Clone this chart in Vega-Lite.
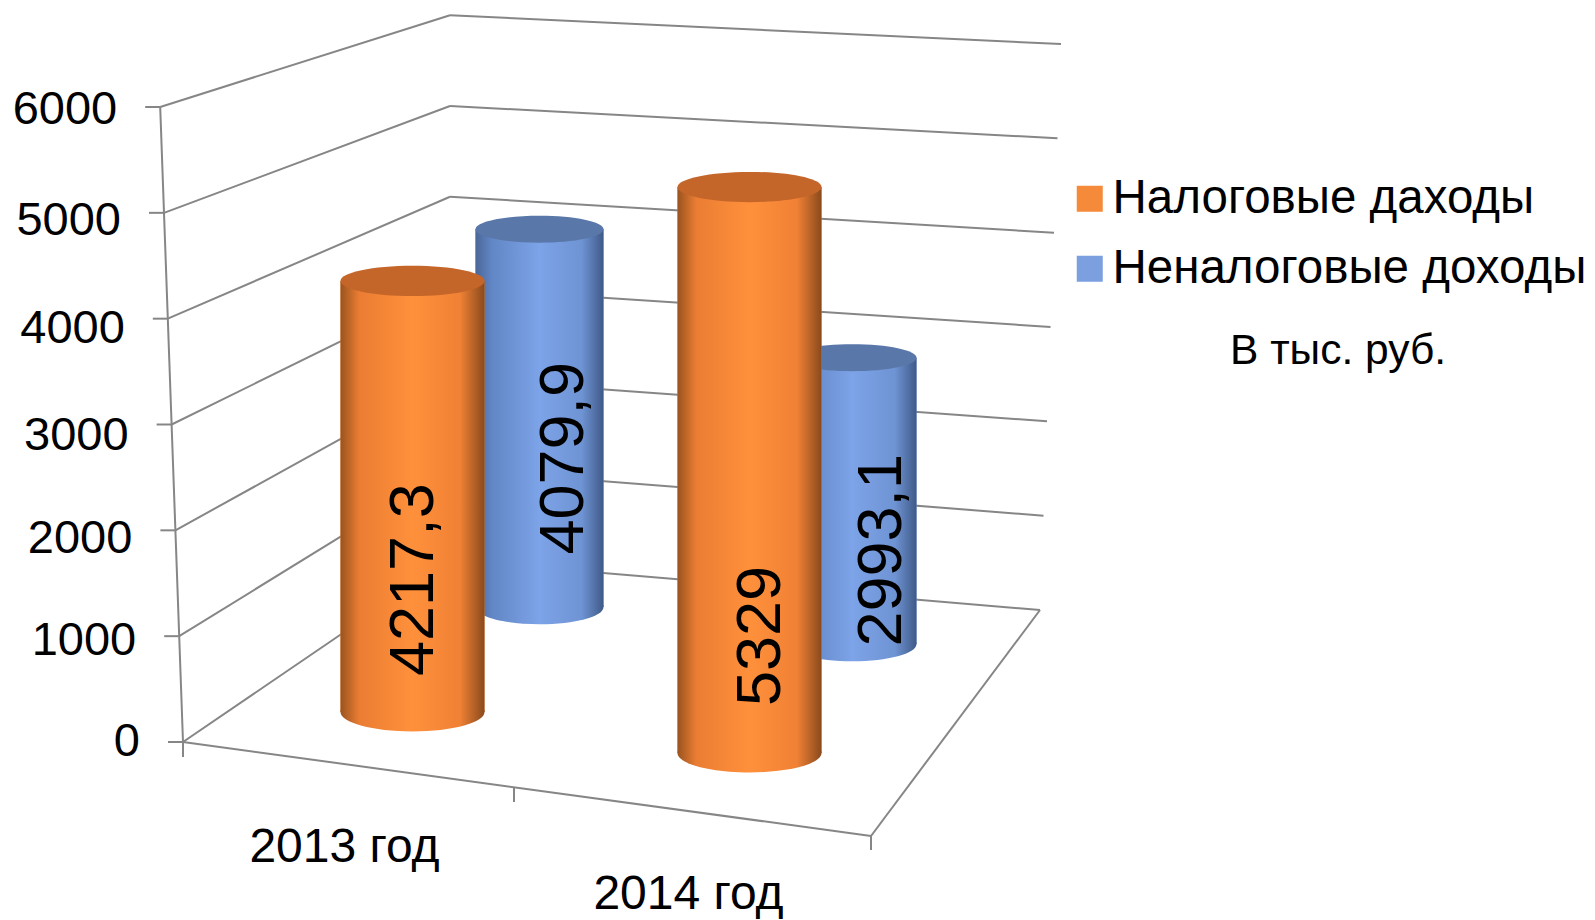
{
"$schema":"https://vega.github.io/schema/vega-lite/v6.json",
"width":688,"height":635,
"autosize":"none",
"padding":{"left":183,"top":107,"right":724,"bottom":178},
"background":"white",
"config":{"view":{"stroke":null},"font":"Liberation Sans"},
"title":{"text":"В тыс. руб.","anchor":"start","frame":"group","dx":1047,"dy":358,"offset":0,"fontSize":42.5,"fontWeight":"normal","font":"Liberation Sans","color":"black"},
"params":[{"name":"g","value":{
"Налоговые даходы":{"2013 год":{"dx":57.5,"top":-14.7,"bot":-30,"tdx":58.5,"tdy":284},"2014 год":{"dx":50.5,"top":9,"bot":11,"tdx":62,"tdy":458}},
"Неналоговые доходы":{"2013 год":{"dx":184.5,"top":-81,"bot":-135,"tdx":209,"tdy":148},"2014 год":{"dx":153.5,"top":-67.5,"bot":-98,"tdx":183,"tdy":125}}
}}],
"datasets":{
"grid":[{"level":0},{"level":1000},{"level":2000},{"level":3000},{"level":4000},{"level":5000},{"level":6000}],
"edges":[{"edge":0},{"edge":1},{"edge":2}],
"income":[
{"year":"2013 год","series":"Налоговые даходы","value":4217.3,"label":"4217,3"},
{"year":"2014 год","series":"Налоговые даходы","value":5329,"label":"5329"},
{"year":"2013 год","series":"Неналоговые доходы","value":4079.9,"label":"4079,9"},
{"year":"2014 год","series":"Неналоговые доходы","value":2993.1,"label":"2993,1"}
]},
"layer":[
{"data":{"name":"grid"},
 "mark":{"type":"rule","color":"#868686","strokeWidth":2,"xOffset":{"expr":"-172-0.0038*datum.level"},"x2Offset":95,"y2Offset":{"expr":"-182+0.01503*datum.level"}},
 "encoding":{
  "x":{"datum":"2013 год","type":"nominal","axis":null,"scale":{"domain":["2013 год","2014 год"],"paddingInner":0,"paddingOuter":0}},
  "x2":{"datum":"2013 год"},
  "y":{"field":"level","type":"quantitative","axis":null,"scale":{"domain":[0,6000],"nice":false}},
  "y2":{"field":"level"}}},
{"data":{"name":"grid"},
 "mark":{"type":"rule","color":"#868686","strokeWidth":2,"xOffset":95,"x2Offset":{"expr":"685+0.0035*datum.level"},"yOffset":{"expr":"-182+0.01503*datum.level"},"y2Offset":{"expr":"-132+0.0115*datum.level"}},
 "encoding":{"x":{"datum":"2013 год","type":"nominal","axis":null},"x2":{"datum":"2013 год"},"y":{"field":"level","type":"quantitative","axis":null},"y2":{"field":"level"}}},
{"data":{"name":"grid"},
 "mark":{"type":"rule","color":"#868686","strokeWidth":2,"xOffset":{"expr":"-187-0.0038*datum.level"},"x2Offset":{"expr":"-172-0.0038*datum.level"}},
 "encoding":{"x":{"datum":"2013 год","type":"nominal","axis":null},"x2":{"datum":"2013 год"},"y":{"field":"level","type":"quantitative","axis":null}}},
{"data":{"name":"grid"},"transform":[{"filter":"datum.level==6000"}],
 "mark":{"type":"rule","color":"#868686","strokeWidth":2,"xOffset":-194.8,"x2Offset":-172},
 "encoding":{"x":{"datum":"2013 год","type":"nominal","axis":null},"x2":{"datum":"2013 год"},"y":{"field":"level","type":"quantitative","axis":null},"y2":{"datum":0}}},
{"data":{"name":"grid"},"transform":[{"filter":"datum.level==0"}],
 "mark":{"type":"rule","color":"#868686","strokeWidth":2,"xOffset":-172,"x2Offset":516,"y2Offset":94},
 "encoding":{"x":{"datum":"2013 год","type":"nominal","axis":null},"x2":{"datum":"2013 год"},"y":{"field":"level","type":"quantitative","axis":null},"y2":{"field":"level"}}},
{"data":{"name":"grid"},"transform":[{"filter":"datum.level==0"}],
 "mark":{"type":"rule","color":"#868686","strokeWidth":2,"xOffset":516,"x2Offset":685,"yOffset":94,"y2Offset":-132},
 "encoding":{"x":{"datum":"2013 год","type":"nominal","axis":null},"x2":{"datum":"2013 год"},"y":{"field":"level","type":"quantitative","axis":null},"y2":{"field":"level"}}},
{"data":{"name":"edges"},
 "mark":{"type":"rule","color":"#868686","strokeWidth":2,"xOffset":{"expr":"[-172,159,516][datum.edge]"},"x2Offset":{"expr":"[-172,159,516][datum.edge]"},"yOffset":{"expr":"[0,46,94][datum.edge]"},"y2Offset":{"expr":"[15,60,108][datum.edge]"}},
 "encoding":{"x":{"datum":"2013 год","type":"nominal","axis":null},"x2":{"datum":"2013 год"},"y":{"datum":0,"type":"quantitative","axis":null},"y2":{"datum":0}}},
{"data":{"name":"grid"},
 "mark":{"type":"text","fontSize":47,"font":"Liberation Sans","color":"black","align":"right","baseline":"middle","xOffset":{"expr":"-215-0.0038*datum.level"},"yOffset":{"expr":"[0,5,9,11,10,8,3][datum.level/1000]"}},
 "encoding":{"x":{"datum":"2013 год","type":"nominal","axis":null},"y":{"field":"level","type":"quantitative","axis":null},"text":{"field":"level","type":"quantitative","format":"d"}}},
{"data":{"name":"income"},"transform":[{"filter":"datum.series=='Налоговые даходы'"}],
 "mark":{"type":"text","fontSize":48,"font":"Liberation Sans","color":"black","align":"center","baseline":"middle","xOffset":-10.5,"yOffset":{"expr":"datum.year=='2013 год'?106:153"}},
 "encoding":{"x":{"field":"year","type":"nominal","axis":null},"y":{"datum":0,"type":"quantitative","axis":null},"text":{"field":"year","type":"nominal"}}},
{"data":{"name":"income"},"transform":[{"filter":"datum.series=='Неналоговые доходы'"}],
 "layer":[
 {"mark":{"type":"bar","width":128,"xOffset":{"expr":"g[datum.series][datum.year].dx"},"yOffset":{"expr":"g[datum.series][datum.year].top"},"y2Offset":{"expr":"g[datum.series][datum.year].bot"}},
  "encoding":{"x":{"field":"year","type":"nominal","axis":null},"y":{"field":"value","type":"quantitative","axis":null,"stack":null},"y2":{"datum":0},
   "color":{"field":"series","type":"nominal","scale":{"domain":["Налоговые даходы","Неналоговые доходы"],"range":["#F58A3A","#7B9FDF"]},
    "legend":{"orient":"none","legendX":883,"legendY":68,"title":null,"symbolType":"square","symbolSize":676,"symbolStrokeWidth":0,"labelFontSize":47.5,"labelFont":"Liberation Sans","labelColor":"black","labelLimit":600,"labelOffset":-1,"rowPadding":21,"padding":0}}}},
 {"mark":{"type":"point","filled":true,"opacity":1,"size":16384,"shape":"M-1,0 A1,0.27 0 1,1 1,0 A1,0.27 0 1,1 -1,0 Z","fill":{"gradient":"linear","x1":0,"y1":0,"x2":1,"y2":0,"stops":[{"offset":0,"color":"#4A6698"},{"offset":0.13,"color":"#6287C6"},{"offset":0.5,"color":"#7DA3E8"},{"offset":0.83,"color":"#6F94D4"},{"offset":1,"color":"#3F5A88"}]},"xOffset":{"expr":"g[datum.series][datum.year].dx"},"yOffset":{"expr":"g[datum.series][datum.year].bot"}},
  "encoding":{"x":{"field":"year","type":"nominal","axis":null},"y":{"datum":0,"type":"quantitative","axis":null}}},
 {"mark":{"type":"bar","width":128,"fill":{"gradient":"linear","x1":0,"y1":0,"x2":1,"y2":0,"stops":[{"offset":0,"color":"#4A6698"},{"offset":0.13,"color":"#6287C6"},{"offset":0.5,"color":"#7DA3E8"},{"offset":0.83,"color":"#6F94D4"},{"offset":1,"color":"#3F5A88"}]},"xOffset":{"expr":"g[datum.series][datum.year].dx"},"yOffset":{"expr":"g[datum.series][datum.year].top"},"y2Offset":{"expr":"g[datum.series][datum.year].bot"}},
  "encoding":{"x":{"field":"year","type":"nominal","axis":null},"y":{"field":"value","type":"quantitative","axis":null,"stack":null},"y2":{"datum":0}}},
 {"mark":{"type":"point","filled":true,"opacity":1,"size":16384,"shape":"M-1,0 A1,0.21 0 1,1 1,0 A1,0.21 0 1,1 -1,0 Z","fill":"#5A77A9","xOffset":{"expr":"g[datum.series][datum.year].dx"},"yOffset":{"expr":"g[datum.series][datum.year].top"}},
  "encoding":{"x":{"field":"year","type":"nominal","axis":null},"y":{"field":"value","type":"quantitative","axis":null}}}
 ]},
{"data":{"name":"income"},"transform":[{"filter":"datum.series=='Налоговые даходы'"}],
 "layer":[
 {"mark":{"type":"bar","width":144,"xOffset":{"expr":"g[datum.series][datum.year].dx"},"yOffset":{"expr":"g[datum.series][datum.year].top"},"y2Offset":{"expr":"g[datum.series][datum.year].bot"}},
  "encoding":{"x":{"field":"year","type":"nominal","axis":null},"y":{"field":"value","type":"quantitative","axis":null,"stack":null},"y2":{"datum":0},"color":{"field":"series","type":"nominal"}}},
 {"mark":{"type":"point","filled":true,"opacity":1,"size":20736,"shape":"M-1,0 A1,0.27 0 1,1 1,0 A1,0.27 0 1,1 -1,0 Z","fill":{"gradient":"linear","x1":0,"y1":0,"x2":1,"y2":0,"stops":[{"offset":0,"color":"#9A531F"},{"offset":0.13,"color":"#EA7D33"},{"offset":0.5,"color":"#FF903B"},{"offset":0.83,"color":"#F08135"},{"offset":1,"color":"#8A4A1C"}]},"xOffset":{"expr":"g[datum.series][datum.year].dx"},"yOffset":{"expr":"g[datum.series][datum.year].bot"}},
  "encoding":{"x":{"field":"year","type":"nominal","axis":null},"y":{"datum":0,"type":"quantitative","axis":null}}},
 {"mark":{"type":"bar","width":144,"fill":{"gradient":"linear","x1":0,"y1":0,"x2":1,"y2":0,"stops":[{"offset":0,"color":"#9A531F"},{"offset":0.13,"color":"#EA7D33"},{"offset":0.5,"color":"#FF903B"},{"offset":0.83,"color":"#F08135"},{"offset":1,"color":"#8A4A1C"}]},"xOffset":{"expr":"g[datum.series][datum.year].dx"},"yOffset":{"expr":"g[datum.series][datum.year].top"},"y2Offset":{"expr":"g[datum.series][datum.year].bot"}},
  "encoding":{"x":{"field":"year","type":"nominal","axis":null},"y":{"field":"value","type":"quantitative","axis":null,"stack":null},"y2":{"datum":0}}},
 {"mark":{"type":"point","filled":true,"opacity":1,"size":20736,"shape":"M-1,0 A1,0.21 0 1,1 1,0 A1,0.21 0 1,1 -1,0 Z","fill":"#C4652A","xOffset":{"expr":"g[datum.series][datum.year].dx"},"yOffset":{"expr":"g[datum.series][datum.year].top"}},
  "encoding":{"x":{"field":"year","type":"nominal","axis":null},"y":{"field":"value","type":"quantitative","axis":null}}}
 ]},
{"data":{"name":"income"},
 "mark":{"type":"text","angle":270,"fontSize":63,"font":"Liberation Sans","color":"black","align":"center","baseline":"middle","xOffset":{"expr":"g[datum.series][datum.year].tdx"},"yOffset":{"expr":"g[datum.series][datum.year].tdy"}},
 "encoding":{"x":{"field":"year","type":"nominal","axis":null},"y":{"field":"value","type":"quantitative","axis":null},"text":{"field":"label","type":"nominal"}}}
]
}
